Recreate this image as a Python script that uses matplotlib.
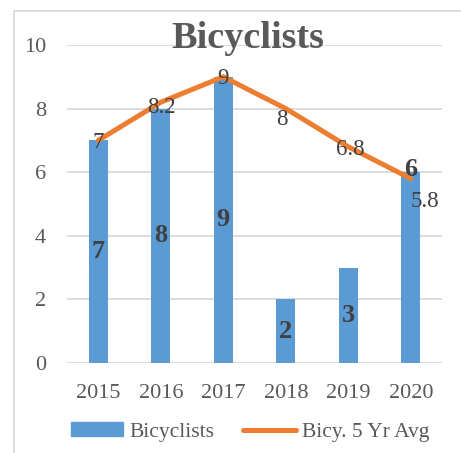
import matplotlib.pyplot as plt
from matplotlib.patches import Rectangle, Patch
from matplotlib.lines import Line2D

years = ["2015", "2016", "2017", "2018", "2019", "2020"]
bicyclists = [7, 8, 9, 2, 3, 6]
avg_5yr = [7, 8.2, 9, 8, 6.8, 5.8]
avg_labels = ["7", "8.2", "9", "8", "6.8", "5.8"]

# where each avg label sits relative to its point (pixels)
avg_offsets = [(0, -2), (1, -5), (0, -2), (-4, -11), (2, -3), (14, -23)]

blue = "#5B9BD5"
orange = "#ED7D31"
grey = "#595959"
dark = "#404040"

plt.rcParams['font.family'] = ['Liberation Serif', 'DejaVu Serif']

fig = plt.figure(figsize=(4.61, 4.53), dpi=100)
ax = fig.add_axes([67/461, 1-363/453, 375/461, 318/453])

x = list(range(len(years)))
ax.bar(x, bicyclists, width=0.31, color=blue, zorder=2)
ax.plot(x, avg_5yr, color=orange, lw=3.6, solid_capstyle='round', zorder=3)

# bar labels, bold, in the middle of the bar (last one at the top)
for i, v in enumerate(bicyclists):
    y = v / 2 if i < len(bicyclists) - 1 else v + 0.1
    ax.text(i, y, str(v), ha='center', va='center', fontsize=19,
            fontweight='bold', color=dark, zorder=4)

for i, (v, lab) in enumerate(zip(avg_5yr, avg_labels)):
    ax.annotate(lab, (i, v), xytext=avg_offsets[i], textcoords='offset pixels',
                ha='center', va='center', fontsize=16.5, color=dark, zorder=4)

ax.set_xlim(-0.5, 5.5)
ax.set_ylim(0, 10)
ax.set_yticks([0, 2, 4, 6, 8, 10])
ax.set_xticks(x)
ax.set_xticklabels(years)
ax.tick_params(length=0, labelsize=16, labelcolor=grey)
ax.tick_params(axis='y', pad=15)
ax.tick_params(axis='x', pad=15)
ax.grid(axis='y', color='#D9D9D9', lw=1.3, zorder=0)
ax.set_axisbelow(True)
for s in ax.spines.values():
    s.set_visible(False)

fig.text(248/461, 1-38/453, "Bicyclists", ha='center', va='center',
         fontsize=27.5, fontweight='bold', color=grey)

handles = [Patch(color=blue), Line2D([], [], color=orange, lw=3.6, solid_capstyle='round')]
fig.legend(handles, ["Bicyclists", "Bicy. 5 Yr Avg"], loc='center',
           bbox_to_anchor=(250/461, 1-432/453), ncol=2, frameon=False,
           prop={'family': 'Liberation Serif', 'size': 15.5}, labelcolor=grey,
           handlelength=2.45, handleheight=0.6,
           handletextpad=0.3, columnspacing=1.3)

# chart border (cropped on the right and bottom)
fig.patches.append(Rectangle((14/461, -0.05), 1.0, 1.05-11/453, transform=fig.transFigure,
                             fill=False, edgecolor='#D9D9D9', lw=1.3))

fig.savefig("out.png", dpi=100)
